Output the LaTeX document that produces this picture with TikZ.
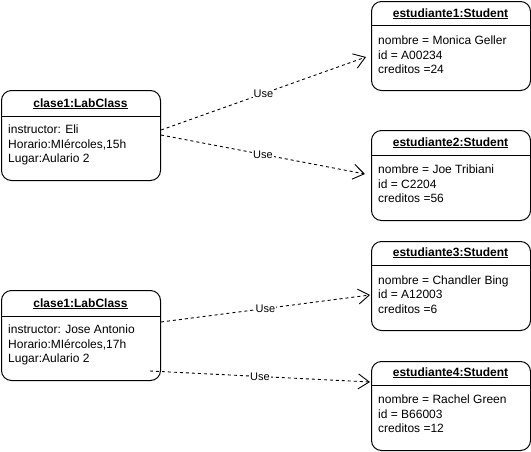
\documentclass[tikz,border=0pt]{standalone}
\usepackage{fontspec}
\setmainfont{Liberation Sans}
\usetikzlibrary{arrows.meta}
\tikzset{
  umlbox/.style={draw, line width=1pt, rounded corners=10pt, inner sep=0pt, anchor=north west, fill=white},
  sepline/.style={line width=1pt},
  ttl/.style={anchor=base, inner sep=0pt, font=\fontsize{12pt}{14pt}\selectfont\bfseries},
  attr/.style={anchor=base west, inner sep=0pt, font=\fontsize{12pt}{14pt}\selectfont},
  use/.style={draw, line width=0.9pt, dash pattern=on 3pt off 3pt, -{Straight Barb[length=11pt,width=15pt,line width=0.9pt]}},
  uselbl/.style={fill=white, inner sep=1pt, font=\fontsize{11pt}{13pt}\selectfont}
}
\begin{document}
\begin{tikzpicture}[x=1pt,y=-1pt]
\useasboundingbox (0,0) rectangle (531,451);

% class 1
\node[umlbox, minimum width=159pt, minimum height=90pt] (c1) at (1,90) {};
\draw[sepline] (c1.west |- 0,116) -- (c1.east |- 0,116);
\node[ttl] (c1t) at (80.5,107) {\underline{clase1:LabClass}};
\node[attr] (c1a) at (8,133) {instructor: Eli};
\node[attr] (c1b) at (8,148) {Horario:MIércoles,15h};
\node[attr] (c1c) at (8,162) {Lugar:Aulario 2};

% class 2
\node[umlbox, minimum width=159pt, minimum height=90pt] (c2) at (1,290) {};
\draw[sepline] (c2.west |- 0,316) -- (c2.east |- 0,316);
\node[ttl] (c2t) at (80.5,307) {\underline{clase1:LabClass}};
\node[attr] (c2a) at (8,333) {instructor: Jose Antonio};
\node[attr] (c2b) at (8,348) {Horario:MIércoles,17h};
\node[attr] (c2c) at (8,362) {Lugar:Aulario 2};

% student 1
\node[umlbox, minimum width=159pt, minimum height=89pt] (s1) at (371,1) {};
\draw[sepline] (s1.west |- 0,25) -- (s1.east |- 0,25);
\node[ttl] (s1t) at (450.5,17) {\underline{estudiante1:Student}};
\node[attr] (s1a) at (378,44) {nombre = Monica Geller};
\node[attr] (s1b) at (378,59) {id = A00234};
\node[attr] (s1c) at (378,73) {creditos =24};

% student 2
\node[umlbox, minimum width=159pt, minimum height=90pt] (s2) at (371,130) {};
\draw[sepline] (s2.west |- 0,155) -- (s2.east |- 0,155);
\node[ttl] (s2t) at (450.5,146) {\underline{estudiante2:Student}};
\node[attr] (s2a) at (378,173) {nombre = Joe Tribiani};
\node[attr] (s2b) at (378,188) {id = C2204};
\node[attr] (s2c) at (378,202) {creditos =56};

% student 3
\node[umlbox, minimum width=159pt, minimum height=89pt] (s3) at (371,241) {};
\draw[sepline] (s3.west |- 0,265) -- (s3.east |- 0,265);
\node[ttl] (s3t) at (450.5,256) {\underline{estudiante3:Student}};
\node[attr] (s3a) at (378,284) {nombre = Chandler Bing};
\node[attr] (s3b) at (378,298) {id = A12003};
\node[attr] (s3c) at (378,313) {creditos =6};

% student 4
\node[umlbox, minimum width=159pt, minimum height=89pt] (s4) at (371,361) {};
\draw[sepline] (s4.west |- 0,385) -- (s4.east |- 0,385);
\node[ttl] (s4t) at (450.5,376) {\underline{estudiante4:Student}};
\node[attr] (s4a) at (378,403) {nombre = Rachel Green};
\node[attr] (s4b) at (378,418) {id = B66003};
\node[attr] (s4c) at (378,432) {creditos =12};

% connector end points
\coordinate (p1a) at (c1.east |- 0,130);
\coordinate (p1b) at (366,57);
\coordinate (p2a) at (c1.east |- 0,135);
\coordinate (p2b) at (365,174);
\coordinate (p3a) at (c2.east |- 0,322);
\coordinate (p3b) at (370,295);
\coordinate (p4a) at (150,371);
\coordinate (p4b) at (370,382);

\draw[use] (p1a) -- node[uselbl] {Use} (p1b);
\draw[use] (p2a) -- node[uselbl] {Use} (p2b);
\draw[use] (p3a) -- node[uselbl] {Use} (p3b);
\draw[use] (p4a) -- node[uselbl] {Use} (p4b);
\end{tikzpicture}
\end{document}
